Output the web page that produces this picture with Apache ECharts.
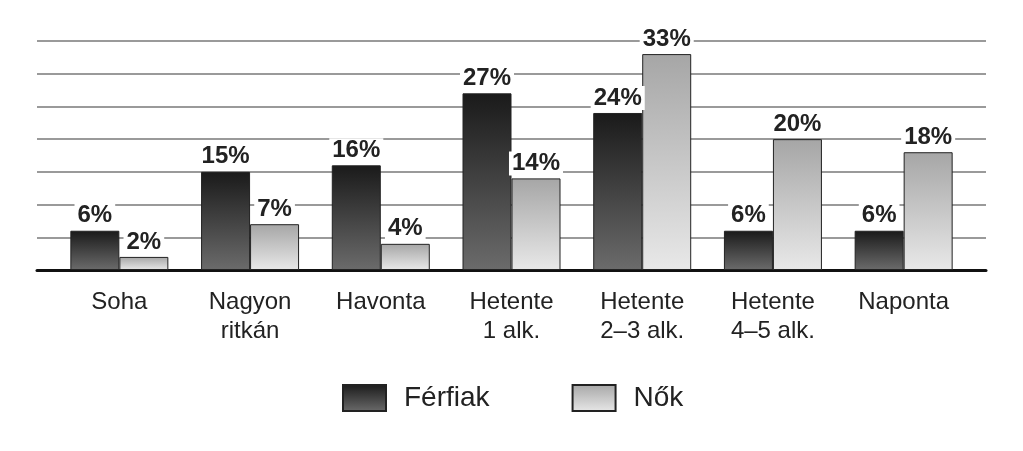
<!DOCTYPE html>
<html>
<head>
<meta charset="utf-8">
<script src="https://cdn.jsdelivr.net/npm/echarts@6/dist/echarts.min.js"></script>
<style>html,body{margin:0;padding:0;background:#fff}#c{width:1023px;height:451px}</style>
</head>
<body>
<div id="c"></div>
<script>
const categories = ['Soha', 'Nagyon\nritkán', 'Havonta', 'Hetente\n1 alk.', 'Hetente\n2–3 alk.', 'Hetente\n4–5 alk.', 'Naponta'];
const ferfiak = [6, 15, 16, 27, 24, 6, 6];
const nok = [2, 7, 4, 14, 33, 20, 18];
const seriesNames = ['Férfiak', 'Nők'];

const font = '"Liberation Sans", Arial, sans-serif';
function grad(top, bottom) {
  return new echarts.graphic.LinearGradient(0, 0, 0, 1, [
    { offset: 0, color: top }, { offset: 1, color: bottom }
  ]);
}
const labelCfg = {
  show: true, position: 'top', distance: 3,
  formatter: '{c}%', fontFamily: font, fontWeight: 'bold', fontSize: 24,
  color: '#222', backgroundColor: '#fff', padding: [0, 3]
};
const chart = echarts.init(document.getElementById('c'), null, { renderer: 'canvas' });
chart.setOption({
  animation: false,
  backgroundColor: '#fff',
  legend: {
    left: 342, top: 384, padding: 0, itemWidth: 43, itemHeight: 26, itemGap: 82,
    icon: 'rect',
    data: seriesNames,
    textStyle: { fontFamily: font, fontSize: 28, color: '#222', padding: [0, 0, 0, 13] }
  },
  grid: [
    { left: 54, right: 54, top: 41, bottom: 181 },
    { left: 37, right: 37, top: 41, bottom: 181 }
  ],
  xAxis: [
    {
      type: 'category', data: categories, gridIndex: 0,
      axisLine: { show: false }, axisTick: { show: false },
      axisLabel: { fontFamily: font, fontSize: 24, color: '#222', lineHeight: 29, margin: 18, interval: 0 }
    },
    {
      type: 'value', gridIndex: 1, min: 0, max: 1,
      axisLine: { show: true, lineStyle: { color: '#111', width: 3 } },
      axisTick: { show: false }, axisLabel: { show: false }, splitLine: { show: false }
    }
  ],
  yAxis: [
    { type: 'value', gridIndex: 0, min: 0, max: 35, interval: 5, show: false, splitLine: { show: false } },
    {
      type: 'value', gridIndex: 1, min: 0, max: 35, interval: 5,
      axisLine: { show: false }, axisTick: { show: false }, axisLabel: { show: false },
      splitLine: { show: true, lineStyle: { color: '#9a9a9a', width: 2 } }
    }
  ],
  series: [
    {
      name: seriesNames[0], type: 'bar', data: ferfiak, xAxisIndex: 0, yAxisIndex: 0,
      barWidth: 49, barGap: '0%',
      itemStyle: { color: grad('#1a1a1a', '#6b6b6b'), borderColor: '#222', borderWidth: 1 },
      label: labelCfg
    },
    {
      name: seriesNames[1], type: 'bar', data: nok, xAxisIndex: 0, yAxisIndex: 0,
      barWidth: 49, barGap: '0%',
      itemStyle: { color: grad('#a6a6a6', '#e8e8e8'), borderColor: '#222', borderWidth: 1 },
      label: labelCfg
    }
  ]
});
</script>
</body>
</html>
